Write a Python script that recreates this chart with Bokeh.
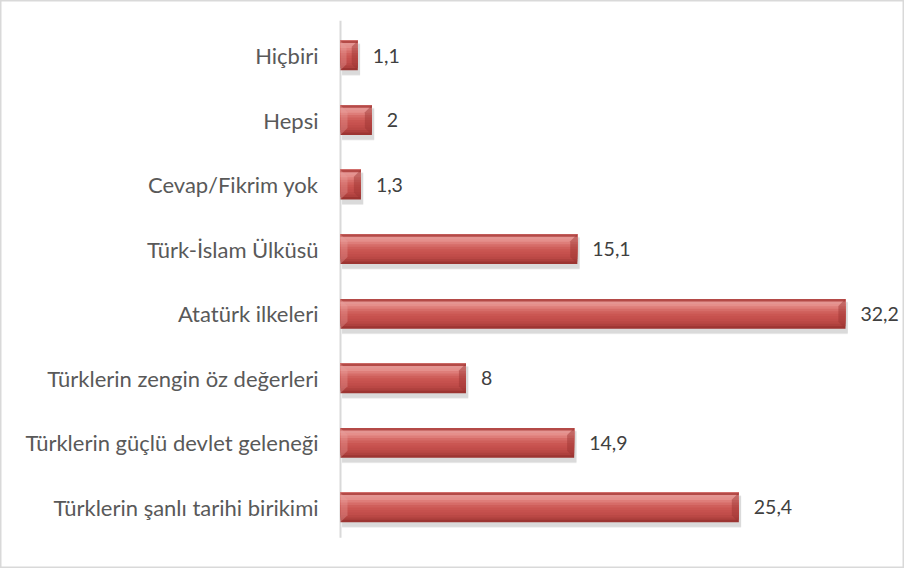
from bokeh.plotting import figure
from bokeh.embed import file_html
from bokeh.resources import INLINE
from bokeh.models import ColumnDataSource, Range1d
from bokeh.core.properties import value

# Data (top to bottom in the reference)
categories = [
    "Hiçbiri",
    "Hepsi",
    "Cevap/Fikrim yok",
    "Türk-İslam Ülküsü",
    "Atatürk ilkeleri",
    "Türklerin zengin öz değerleri",
    "Türklerin güçlü devlet geleneği",
    "Türklerin şanlı tarihi birikimi",
]
values = [1.1, 2, 1.3, 15.1, 32.2, 8, 14.9, 25.4]
value_labels = ["1,1", "2", "1,3", "15,1", "32,2", "8", "14,9", "25,4"]

n = len(categories)
ypos = [n - 1 - i for i in range(n)]  # first category at top

W, H = 904, 568
PX_PER_UNIT = 15.68
x0_px = 340
x_start = -x0_px / PX_PER_UNIT
x_end = (W - x0_px) / PX_PER_UNIT
ROW_PX = 64.57
y_end = (n - 1) + 55 / ROW_PX
y_start = y_end - H / ROW_PX

p = figure(width=W, height=H, output_backend="svg", toolbar_location=None,
           x_range=Range1d(x_start, x_end), y_range=Range1d(y_start, y_end),
           min_border=0, x_axis_location=None, y_axis_location=None)
p.grid.visible = False
p.outline_line_color = "#D9D9D9"
p.outline_line_width = 2
p.background_fill_color = "white"
p.border_fill_color = "white"

src = ColumnDataSource(dict(y=ypos, v=values, lab=value_labels, cat=categories))

# axis line
p.segment(x0=[0], y0=[-0.47], x1=[0], y1=[n - 1 + 0.54], line_color="#D9D9D9", line_width=2)

BH = 0.46
U = 1.0 / ROW_PX  # one pixel in y units
# soft shadow
for k, a in enumerate([0.10, 0.10, 0.12]):
    grow = (3 - k) * U
    p.hbar(y=[y - 4 * U for y in ypos], left=0.1, right=[v + 0.15 for v in values],
           height=BH + grow, fill_color="#808080", fill_alpha=a, line_color=None)

# gradient (nested layers, top to bottom colours)
grad = ["#B44A47", "#E49592", "#E58F8B", "#DE7D79", "#D66C68", "#CF5F5B",
        "#CA5652", "#C6514E", "#C14D4A", "#BA4845", "#AE413E", "#9C3532"]
ns = len(grad)
sh = BH / ns
for k in range(ns - 1, -1, -1):
    depth = (k + 1) * sh
    p.hbar(y=[y + BH / 2 - depth / 2 for y in ypos], left=0, right=values, height=depth,
           fill_color=grad[k], line_color=None)

# end bevels
bev_px = 7
bev = bev_px / PX_PER_UNIT
xs_r, ys_r, xs_l, ys_l = [], [], [], []
for y, v in zip(ypos, values):
    b = min(bev, v * 0.35)
    bp = b * PX_PER_UNIT * U
    xs_r.append([v - b, v, v, v - b])
    ys_r.append([y + BH / 2 - bp, y + BH / 2, y - BH / 2, y - BH / 2 + bp])
    xs_l.append([0, b, b, 0])
    ys_l.append([y + BH / 2, y + BH / 2 - bp, y - BH / 2 + bp, y - BH / 2])
p.patches(xs=xs_r, ys=ys_r, fill_color="#9A3330", fill_alpha=0.45, line_color=None)
p.patches(xs=xs_l, ys=ys_l, fill_color="#E8A09D", fill_alpha=0.35, line_color=None)

FONT = "Lato"
# value labels
p.text(x="v", y="y", text="lab", source=src, x_offset=15, text_align="left",
       text_baseline="middle", text_font=value(FONT), text_font_size="19.5px",
       text_color="#404040")
# category labels
p.text(x=0, y="y", text="cat", source=src, x_offset=-22, text_align="right",
       text_baseline="middle", text_font=value(FONT), text_font_size="22px",
       text_color="#595959")

open("out.html", "w").write(file_html(p, INLINE))
